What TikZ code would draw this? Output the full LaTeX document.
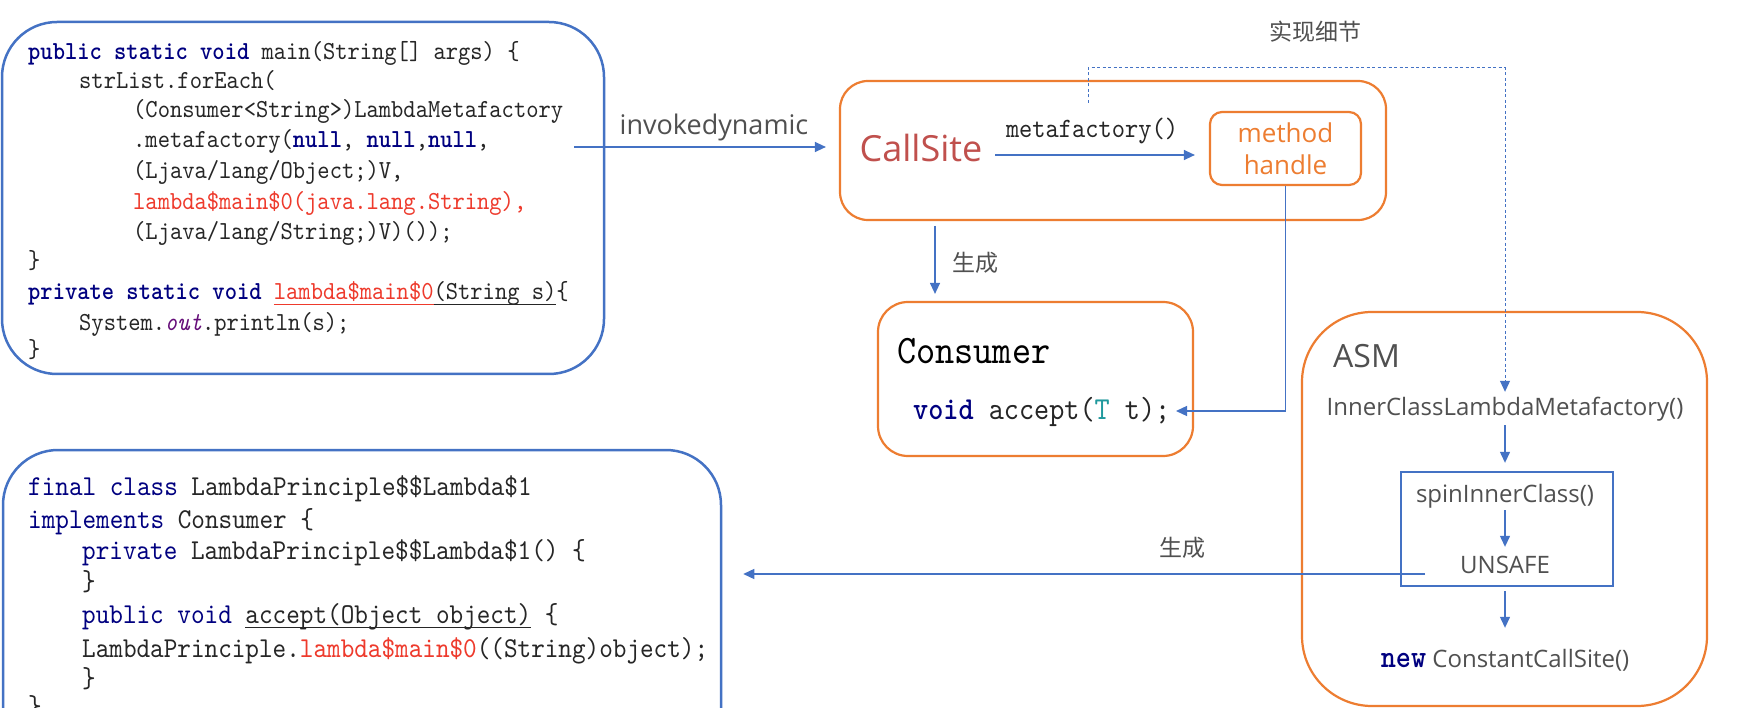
\documentclass[tikz,border=0pt]{standalone}
\usepackage{fontspec}
\usetikzlibrary{arrows.meta}
\newfontfamily\cjk{Noto Sans CJK SC}
\newfontfamily\osans{Open Sans}
\newfontfamily\code{lmmono10-regular}[Extension=.otf, ItalicFont=lmmono10-italic, BoldFont=lmmonolt10-bold, FakeStretch=0.9]
\definecolor{lblue}{HTML}{4472C4}
\definecolor{orng}{HTML}{ED7D31}
\definecolor{txt}{HTML}{505050}
\definecolor{codec}{HTML}{262626}
\definecolor{kw}{HTML}{000080}
\definecolor{cred}{HTML}{EE3A2C}
\definecolor{cs}{HTML}{C0504D}
\definecolor{purp}{HTML}{660E7A}
\definecolor{tealc}{HTML}{20999D}
\newcommand{\kwb}[1]{\textcolor{kw}{\bfseries #1}}
\newcommand{\kwn}[1]{\textcolor{kw}{#1}}
\newcommand{\rd}[1]{\textcolor{cred}{#1}}
\newcommand{\ulx}[1]{\setbox0\hbox{#1}\rlap{\rule[-5pt]{\wd0}{1.1pt}}\box0\relax}
\tikzset{
  bluebox/.style={draw=lblue, line width=2.5pt, rectangle, inner sep=0pt},
  orbox/.style={draw=orng, line width=2.2pt, rectangle, inner sep=0pt},
  codeA/.style={anchor=base west, inner sep=0pt, text=codec, font=\code\fontsize{26}{30}\selectfont},
  codeB/.style={anchor=base west, inner sep=0pt, text=codec, font=\code\fontsize{28.8}{32}\selectfont},
  lbl/.style={inner sep=0pt, text=txt, font=\osans\fontsize{27}{32}\selectfont},
  cjklbl/.style={inner sep=0pt, text=txt, font=\cjk\fontsize{23}{28}\selectfont},
  asmtxt/.style={anchor=base, inner sep=0pt, text=txt, text height=18pt, text depth=6pt, font=\osans\fontsize{24}{30}\selectfont},
  arr/.style={draw=lblue, line width=1.3pt, -{Triangle[length=11pt,width=10pt]}},
}
\begin{document}
\begin{tikzpicture}[x=1pt,y=-1pt]
\useasboundingbox (0,0) rectangle (1764,708);
\fill[white] (0,0) rectangle (1764,708);

% ---- left top code box
\node[bluebox, rounded corners=55pt, minimum width=602pt, minimum height=352pt] (boxA) at (303,198) {};
\node[codeA] (a1) at (28,60) {\kwb{public static void} main(String[] args) \{};
\node[codeA] (a2) at (79,89) {strList.forEach(};
\node[codeA] (a3) at (133,118) {(Consumer<String>)LambdaMetafactory};
\node[codeA] (a4) at (133,148) {.metafactory(\kwb{null}, \kwb{null},\kwb{null},};
\node[codeA] (a5) at (133,179) {(Ljava/lang/Object;)V,};
\node[codeA] (a6) at (133,210) {\rd{lambda\$main\$0(java.lang.String),}};
\node[codeA] (a7) at (133,240) {(Ljava/lang/String;)V)());};
\node[codeA] (a8) at (28,269) {\}};
\node[codeA] (a9) at (28,300) {\kwb{private static void} \rd{\ulx{lambda\$main\$0}}\ulx{(String s)}\{};
\node[codeA] (a10) at (79,331) {System.\textcolor{purp}{\textit{out}}.println(s);};
\node[codeA] (a11) at (28,358) {\}};

% ---- left bottom code box
\node[bluebox, rounded corners=55pt, minimum width=718pt, minimum height=320pt] (boxB) at (362,610) {};
\node[codeB] (b1) at (28,495) {\kwn{final class} LambdaPrinciple\$\$Lambda\$1};
\node[codeB] (b2) at (28,528) {\kwn{implements} Consumer \{};
\node[codeB] (b3) at (82,559) {\kwn{private} LambdaPrinciple\$\$Lambda\$1() \{};
\node[codeB] (b4) at (82,590) {\}};
\node[codeB] (b5) at (82,623) {\kwn{public void} \ulx{accept(Object object)} \{};
\node[codeB] (b6) at (82,657) {LambdaPrinciple.\rd{lambda\$main\$0}((String)object);};
\node[codeB] (b7) at (82,687) {\}};
\node[codeB] (b8) at (28,715) {\}};

% ---- CallSite box
\node[orbox, rounded corners=28pt, minimum width=546pt, minimum height=139pt] (boxC) at (1113,150.5) {};
\node[anchor=base, inner sep=0pt, text=cs, font=\osans\fontsize{36}{40}\selectfont] (cs) at (921,162) {CallSite};
\node[orbox, rounded corners=12pt, minimum width=151pt, minimum height=73pt, align=center, text=orng, font=\osans\fontsize{26}{32}\selectfont] (mh) at (1285.5,148.5) {method\\handle};
\node[anchor=base, inner sep=0pt, text=codec, font=\code\fontsize{28}{32}\selectfont] (mf) at (1092,138) {metafactory()};
\node[lbl, anchor=base] (inv) at (714,135) {invokedynamic};
\node[cjklbl] (impl) at (1315,32) {实现细节};

% ---- Consumer box
\node[orbox, rounded corners=30pt, minimum width=315pt, minimum height=154pt] (boxD) at (1035.5,379) {};
\node[anchor=base west, inner sep=0pt, text=black, font=\code\fontsize{40.5}{44}\selectfont] (cons) at (897,363) {Consumer};
\node[anchor=base west, inner sep=0pt, text=codec, font=\code\fontsize{32}{36}\selectfont] (acc) at (913,419) {\kwb{void} accept(\textcolor{tealc}{T} t);};
\node[cjklbl] (gen1) at (975,263) {生成};

% ---- ASM box
\node[orbox, rounded corners=70pt, minimum width=405pt, minimum height=394pt] (boxE) at (1504.5,509) {};
\node[anchor=base west, inner sep=0pt, text=txt, font=\osans\fontsize{32}{36}\selectfont] (asm) at (1333,368) {ASM};
\node[asmtxt] (icl) at (1505,415) {InnerClassLambdaMetafactory()};
\node[draw=lblue, line width=2pt, rectangle, inner sep=0pt, minimum width=212pt, minimum height=114pt] (inner) at (1507,529) {};
\node[asmtxt] (spin) at (1505,502) {spinInnerClass()};
\node[asmtxt] (unsafe) at (1505,573) {UNSAFE};
\node[asmtxt] (newcs) at (1505,667) {{\code\fontsize{32}{36}\selectfont\kwb{new}} ConstantCallSite()};
\node[cjklbl] (gen2) at (1182,548) {生成};

% ---- connectors
\coordinate (invs) at (574,147);
\draw[arr, shorten >=13pt] (invs) -- (invs -| boxC.west);
\coordinate (mfs) at (995,155);
\draw[arr, shorten >=14pt] (mfs) -- (mfs -| mh.west);
\coordinate (g1s) at (935,226);
\draw[arr, shorten >=7pt] (g1s) -- (g1s |- boxD.north);
\coordinate (accEnd) at (1176,411);
\draw[arr] (mh.south) |- (accEnd);
\coordinate (d0) at (1088,103);
\coordinate (d1) at (1505,68);
\draw[arr, line width=1pt, dash pattern=on 3pt off 2.5pt, shorten >=5pt] (d0) |- (d1) -- (icl.north);
\draw[arr, shorten <=4pt, shorten >=21pt] (icl.south) -- (spin.north);
\draw[arr, shorten <=2pt, shorten >=8pt] (spin.south) -- (unsafe.north);
\draw[arr, shorten <=4pt, shorten >=21pt] (newcs.north |- inner.south) -- (newcs.north);
\coordinate (u0) at (1425,574);
\draw[arr, shorten >=21pt] (u0) -- (u0 -| boxB.east);
\end{tikzpicture}
\end{document}
